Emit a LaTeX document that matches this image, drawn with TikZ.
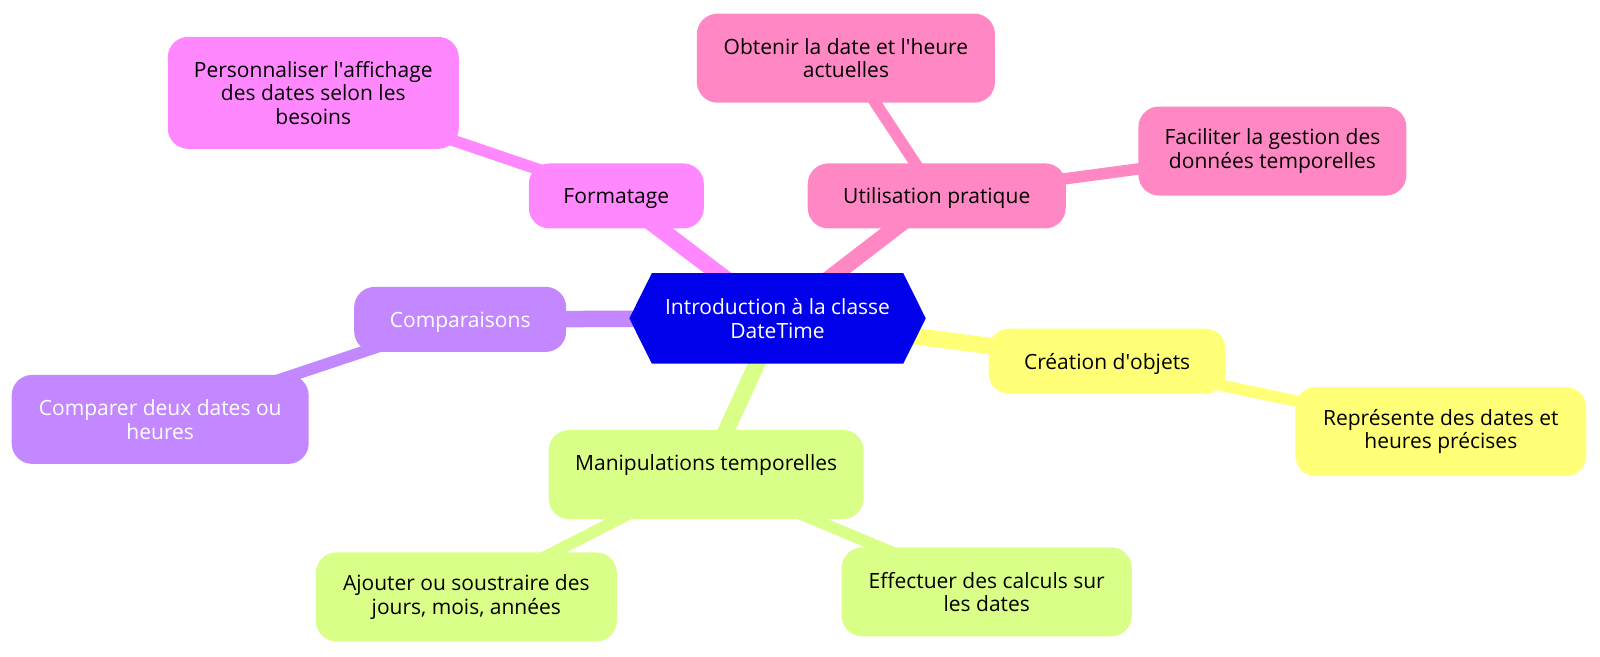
\documentclass[tikz,border=0pt]{standalone}
\usepackage{fontspec}
\setmainfont{Open Sans}
\usetikzlibrary{calc,backgrounds}
\definecolor{rootblue}{RGB}{0,0,235}
\definecolor{fmtpink}{RGB}{255,136,255}
\definecolor{usepink}{RGB}{255,136,196}
\definecolor{creyellow}{RGB}{255,255,120}
\definecolor{mangreen}{RGB}{218,255,136}
\definecolor{cmppurple}{RGB}{195,136,255}
\begin{document}
\begin{tikzpicture}[x=1.0204pt,y=-1.0204pt,
    every node/.style={font=\fontsize{21}{23.5}\selectfont},
    idea/.style={rounded corners=20.5pt,align=center,inner sep=0pt},
    one line/.style={idea,minimum height=65pt,text depth=0pt},
    two lines/.style={idea,minimum height=89pt},
    three lines/.style={idea,minimum height=112pt},
    trunk/.style={line width=16.5pt},
    twig/.style={line width=11.5pt}]

    \useasboundingbox (0,0) rectangle (1568,643);

    % Define vertices
    \node[minimum width=296pt,minimum height=90pt,align=center,text=white] (root) at (762,312) {Introduction à la classe\\DateTime};

    \node[one line,fill=fmtpink,minimum width=175pt] (fmt) at (604,192) {Formatage};
    \node[three lines,fill=fmtpink,minimum width=291pt] (fmt1) at (307,91) {Personnaliser l\textquotesingle affichage\\des dates selon les\\besoins};

    \node[one line,fill=usepink,minimum width=258pt] (use) at (918,192) {Utilisation pratique};
    \node[two lines,fill=usepink,minimum width=298pt] (use1) at (829,57) {Obtenir la date et l\textquotesingle heure\\actuelles};
    \node[two lines,fill=usepink,minimum width=268pt] (use2) at (1247,148) {Faciliter la gestion des\\données temporelles};

    \node[one line,fill=creyellow,minimum width=237pt] (cre) at (1085,354) {Création d\textquotesingle objets};
    \node[two lines,fill=creyellow,minimum width=291pt] (cre1) at (1412,423) {Représente des dates et\\heures précises};

    \node[two lines,fill=mangreen,minimum width=315pt] (man) at (692,465) {Manipulations temporelles\\\mbox{}};
    \node[two lines,fill=mangreen,minimum width=301pt] (man1) at (457,585) {Ajouter ou soustraire des\\jours, mois, années};
    \node[two lines,fill=mangreen,minimum width=290pt] (man2) at (967,580) {Effectuer des calculs sur\\les dates};

    \node[one line,fill=cmppurple,minimum width=212pt,text=white] (cmp) at (451,313) {Comparaisons};
    \node[two lines,fill=cmppurple,minimum width=297pt,text=white] (cmp1) at (157,411) {Comparer deux dates ou\\heures};

    % Define edges
    \begin{scope}[on background layer]
        \draw[trunk,fmtpink] (root.center) -- (fmt.center);
        \draw[trunk,usepink] (root.center) -- (use.center);
        \draw[trunk,creyellow] (root.center) -- (cre.center);
        \draw[trunk,mangreen] (root.center) -- (man.center);
        \draw[trunk,cmppurple] (root.center) -- (cmp.center);
        \draw[twig,fmtpink] (fmt.center) -- (fmt1.center);
        \draw[twig,usepink] (use.center) -- (use1.center);
        \draw[twig,usepink] (use.center) -- (use2.center);
        \draw[twig,creyellow] (cre.center) -- (cre1.center);
        \draw[twig,mangreen] (man.center) -- (man1.center);
        \draw[twig,mangreen] (man.center) -- (man2.center);
        \draw[twig,cmppurple] (cmp.center) -- (cmp1.center);
        \fill[rootblue] ($(root.north west)+(22,0)$) -- ($(root.north east)+(-22,0)$) -- (root.east)
            -- ($(root.south east)+(-22,0)$) -- ($(root.south west)+(22,0)$) -- (root.west) -- cycle;
    \end{scope}

\end{tikzpicture}
\end{document}
